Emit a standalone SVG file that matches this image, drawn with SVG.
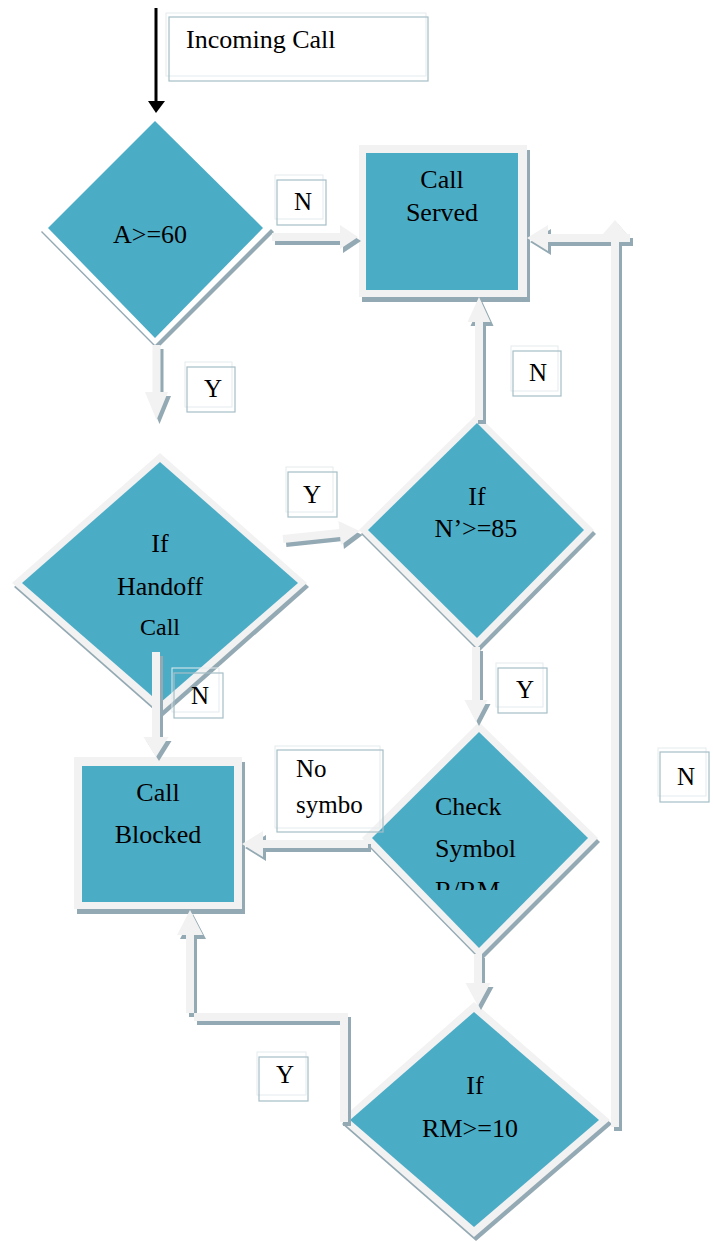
<svg xmlns="http://www.w3.org/2000/svg" xmlns:xlink="http://www.w3.org/1999/xlink" width="713" height="1243" viewBox="0 0 713 1243">
<style>
.teal{fill:#4BACC6}
.lite{fill:#F2F2F2}
.shd{fill:#93A9B3}
.wht{fill:#FFFFFF}
text{font-family:'Liberation Serif','Times New Roman',Times,serif;fill:#000}
.t{font-size:26px;text-anchor:middle}
.tl{font-size:25px}
.lb1{fill:none;stroke:#E4EBEE;stroke-width:1}
.lb2{fill:none;stroke:#A6BEC7;stroke-width:1.2}
</style>
<defs>
<clipPath id="clipRRM"><rect x="420" y="860" width="140" height="30"/></clipPath>
<polygon id="c1" points="272,233 340,233 340,225 358,237 340,249 340,241 272,241"/>
<polygon id="c2" points="152.5,345 160.5,345 160.5,392 168,392 156.5,420 145,392 152.5,392"/>
<polygon id="c3" points="0,-4 57,-4 57,-12 77,0 57,12 57,4 0,4" transform="translate(283,539) rotate(-6)"/>
<polygon id="c4" points="475,420 483,420 483,322 490.5,322 479,297 467.5,322 475,322"/>
<polygon id="c5" points="472,647 480,647 480,700 487.5,700 476,722 464.5,700 472,700"/>
<polygon id="c6" points="152,652 160,652 160,737 168.5,737 156,757 143.5,737 152,737"/>
<polygon id="c7" points="368,840 263,840 263,831 242,844 263,857 263,848 368,848"/>
<polygon id="c8" points="474,954 482,954 482,983 490.5,983 478,1006 465.5,983 474,983"/>
<polygon id="c9" points="348,1122 348,1013 186,1013 186,935 177,935 190,910 203,935 194,935 194,1021 340,1021 340,1122"/>
<g id="c10">
<rect x="611" y="240" width="8" height="887"/>
<polygon points="615,220 603,234 627,234"/>
<polygon points="630,234 548,234 548,225 527,238 548,251 548,242 630,242"/>
</g>
</defs>

<!-- Nodes -->
<g id="node-incoming">
<rect x="166" y="13" width="260" height="63" class="lb1"/>
<rect x="169" y="17" width="259" height="64" class="lb2"/>
<text x="186" y="48" font-family="Liberation Serif, serif" font-size="26">Incoming Call</text>
</g>

<g id="node-a60">
<polygon class="shd" points="157,116 41,232 157,349 274,232"/>
<polygon class="wht" points="155,112 39,228 155,345 272,228"/>
<polygon class="teal" points="155,121 48,228 155,338 263,228"/>
<text x="150" y="243" class="t">A&gt;=60</text>
</g>

<g id="node-served">
<rect x="362" y="150" width="168" height="152" class="shd"/>
<rect x="359" y="145" width="168" height="152" class="lite"/>
<rect x="366" y="153" width="152" height="137" class="teal"/>
<text x="442" y="188" class="t">Call</text>
<text x="442" y="221" class="t">Served</text>
</g>

<g id="node-handoff">
<polygon class="shd" points="162,457 14,587 162,717 309,587"/>
<polygon class="lite" points="160,453 12,583 160,713 307,583"/>
<polygon class="teal" points="160,462 22,583 160,703 298,583"/>
<text x="160" y="552" class="t">If</text>
<text x="160" y="595" class="t">Handoff</text>
<text x="160" y="635" class="t" font-size="24" style="font-size:24px">Call</text>
</g>

<g id="node-n85">
<polygon class="shd" points="479,418 361,534 479,652 596,534"/>
<polygon class="lite" points="477,414 359,530 477,648 594,530"/>
<polygon class="teal" points="477,423 368,530 477,638 584,530"/>
<text x="477" y="505" class="t">If</text>
<text x="476" y="537" class="t">N’&gt;=85</text>
</g>

<g id="node-blocked">
<rect x="77" y="762" width="168" height="152" class="shd"/>
<rect x="74" y="757" width="168" height="152" class="lite"/>
<rect x="82" y="766" width="152" height="136" class="teal"/>
<text x="158" y="801" class="t">Call</text>
<text x="158" y="843" class="t">Blocked</text>
</g>

<g id="node-check">
<polygon class="shd" points="481,726 364,842 481,961 600,842"/>
<polygon class="lite" points="479,722 362,838 479,957 598,838"/>
<polygon class="teal" points="479,732 372,838 479,948 588,838"/>
<text x="435" y="815" class="tl" style="font-size:26px">Check</text>
<text x="435" y="857" class="tl" style="font-size:26px">Symbol</text>
<text x="435" y="899" class="tl" style="font-size:26px" clip-path="url(#clipRRM)">R/RM</text>
</g>

<g id="node-rm10">
<polygon class="shd" points="476,1006 342,1124 476,1241 612,1124"/>
<polygon class="lite" points="474,1002 340,1120 474,1237 610,1120"/>
<polygon class="teal" points="474,1012 350,1120 474,1227 599,1120"/>
<text x="475" y="1094" class="t">If</text>
<text x="470" y="1137" class="t">RM&gt;=10</text>
</g>

<!-- Connectors -->
<g id="connectors">
<g class="shd" transform="translate(3,4)">
<use xlink:href="#c1"/><use xlink:href="#c2"/><use xlink:href="#c3"/><use xlink:href="#c4"/><use xlink:href="#c5"/>
<use xlink:href="#c6"/><use xlink:href="#c7"/><use xlink:href="#c8"/><use xlink:href="#c9"/><use xlink:href="#c10"/>
</g>
<g class="lite">
<use xlink:href="#c1"/><use xlink:href="#c2"/><use xlink:href="#c3"/><use xlink:href="#c4"/><use xlink:href="#c5"/>
<use xlink:href="#c6"/><use xlink:href="#c7"/><use xlink:href="#c8"/><use xlink:href="#c9"/><use xlink:href="#c10"/>
</g>
<g id="incoming-arrow">
<rect x="154.5" y="8" width="3" height="95" fill="#000"/>
<polygon points="148,101 165,101 156,113" fill="#000"/>
</g>
</g>

<!-- Labels -->
<g id="label-n1"><rect x="275" y="175" width="48" height="44" class="lb1"/><rect x="277" y="180" width="49" height="45" class="lb2"/><text x="303" y="210" class="t" style="font-size:25px">N</text></g>
<g id="label-y1"><rect x="185" y="362" width="47" height="45" class="lb1"/><rect x="187" y="367" width="48" height="45" class="lb2"/><text x="213" y="397" class="t" style="font-size:25px">Y</text></g>
<g id="label-y2"><rect x="286" y="467" width="47" height="45" class="lb1"/><rect x="288" y="472" width="49" height="45" class="lb2"/><text x="312" y="503" class="t" style="font-size:25px">Y</text></g>
<g id="label-n3"><rect x="172" y="668" width="47" height="44" class="lb1"/><rect x="174" y="673" width="49" height="45" class="lb2"/><text x="200" y="704" class="t" style="font-size:25px">N</text></g>
<g id="label-n4"><rect x="511" y="346" width="47" height="45" class="lb1"/><rect x="513" y="351" width="48" height="45" class="lb2"/><text x="538" y="381" class="t" style="font-size:25px">N</text></g>
<g id="label-y5"><rect x="496" y="663" width="47" height="44" class="lb1"/><rect x="498" y="668" width="49" height="45" class="lb2"/><text x="525" y="698" class="t" style="font-size:25px">Y</text></g>
<g id="label-nosym"><rect x="275" y="746" width="105" height="82" class="lb1"/><rect x="277" y="750" width="106" height="82" class="lb2"/><text x="296" y="777" class="tl">No</text><text x="296" y="813" class="tl">symbo</text></g>
<g id="label-y7"><rect x="257" y="1052" width="49" height="43" class="lb1"/><rect x="259" y="1057" width="49" height="44" class="lb2"/><text x="285" y="1083" class="t" style="font-size:25px">Y</text></g>
<g id="label-n8"><rect x="658" y="748" width="48" height="48" class="lb1"/><rect x="660" y="752" width="49" height="50" class="lb2"/><text x="686" y="785" class="t" style="font-size:25px">N</text></g>
</svg>
